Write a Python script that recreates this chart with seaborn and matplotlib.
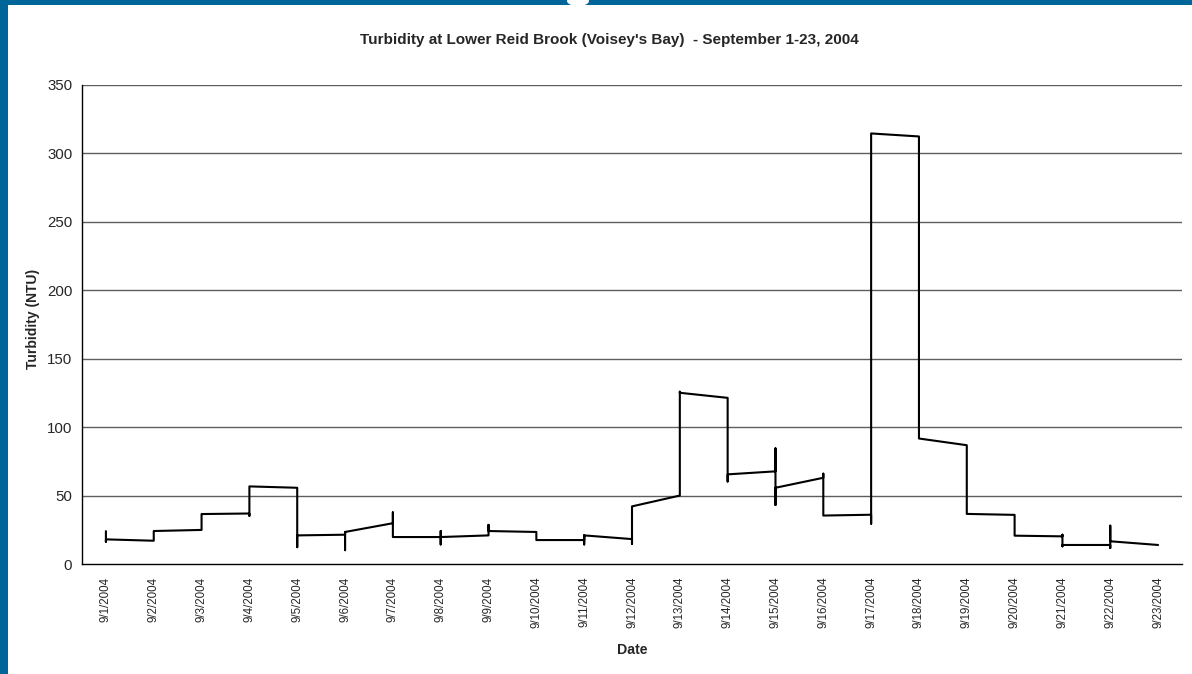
import matplotlib
matplotlib.use("Agg")
import matplotlib.pyplot as plt
from matplotlib.patches import Rectangle, Ellipse
import numpy as np
import pandas as pd
import seaborn as sns

# Day labels for the category axis
date_labels = [f"9/{d}/2004" for d in range(1, 24)]

# Readings in the order they were logged; each reading is tagged with its day (1..23)
reading_day = [
    1, 1, 1,
    2, 2,
    3, 3,
    4, 4, 4,
    5, 5, 5,
    6, 6, 6, 6,
    7, 7, 7,
    8, 8, 8, 8,
    9, 9, 9,
    10, 10,
    11, 11, 11, 11,
    12, 12, 12,
    13, 13, 13, 13,
    14, 14, 14,
    15, 15, 15, 15,
    16, 16, 16,
    17, 17, 17,
    18, 18,
    19, 19, 19,
    20, 20,
    21, 21, 21, 21,
    22, 22, 22, 22,
    23,
]
turbidity_ntu = [
    24.0, 16.3, 18.0,
    17.0, 24.1,
    24.9, 36.5,
    36.9, 35.2, 56.7,
    55.7, 12.3, 20.9,
    21.4, 23.4, 10.1, 23.4,
    29.8, 37.7, 19.7,
    19.7, 24.1, 14.3, 19.7,
    20.9, 28.6, 24.1,
    23.4, 17.5,
    17.5, 20.9, 14.3, 20.9,
    18.2, 14.8, 42.1,
    50.0, 110.0, 125.9, 125.1,
    121.4, 60.3, 65.5,
    67.7, 84.5, 43.1, 55.7,
    63.0, 66.0, 35.4,
    36.0, 29.5, 314.6,
    312.4, 91.7,
    86.8, 42.0, 36.6,
    35.9, 20.7,
    20.2, 21.4, 12.9, 13.9,
    13.9, 11.7, 28.0, 16.6,
    13.9,
]

y_ticks = [0, 50, 100, 150, 200, 250, 300, 350]

df = pd.DataFrame({
    "day": np.array(reading_day) - 1,
    "ntu": turbidity_ntu,
})

sns.set_theme(style="white")
plt.rcParams["font.family"] = ["Liberation Sans", "DejaVu Sans"]

W, H = 1192, 674
fig = plt.figure(figsize=(W / 100, H / 100), dpi=100)
fig.patch.set_facecolor("white")

# Slide frame: blue bar at the top and on the left edge
frame_blue = "#006699"
fig.add_artist(Rectangle((0, 1 - 5 / H), 1, 5 / H, transform=fig.transFigure,
                         facecolor=frame_blue, edgecolor="none", zorder=0))
fig.add_artist(Rectangle((0, 0), 8 / W, 1, transform=fig.transFigure,
                         facecolor=frame_blue, edgecolor="none", zorder=0))
fig.add_artist(Ellipse((578 / W, 1 - 1 / H), 22 / W, 10 / H, transform=fig.transFigure,
                       facecolor="white", edgecolor="none", zorder=1))

ax = fig.add_axes([82 / W, (H - 564) / H, (1182 - 82) / W, (564 - 85) / H])

sns.lineplot(data=df, x="day", y="ntu", sort=False, estimator=None,
             color="black", linewidth=1.5, ax=ax)

ax.set_xlim(-0.5, len(date_labels) - 0.5)
ax.set_ylim(0, 350)

# Horizontal gridlines at each y tick
ax.set_yticks(y_ticks)
ax.set_yticklabels([str(v) for v in y_ticks], fontsize=10.8)
for v in y_ticks[1:]:
    ax.axhline(v, color="#5e5e5e", linewidth=1.0, zorder=0)

# Categories: labels centred, tick marks on the boundaries
ax.set_xticks(np.arange(len(date_labels)))
ax.set_xticklabels(date_labels, rotation=90, fontsize=8.3)
ax.set_xticks(np.arange(len(date_labels) + 1) - 0.5, minor=True)
ax.tick_params(axis="x", which="major", length=0, pad=9)
ax.tick_params(axis="x", which="minor", length=4, width=1, color="black", direction="out")
ax.tick_params(axis="y", which="major", length=4, width=1, color="black", direction="out", pad=3)

for side in ("top", "right"):
    ax.spines[side].set_visible(False)
for side in ("left", "bottom"):
    ax.spines[side].set_color("black")
    ax.spines[side].set_linewidth(1.0)

ax.set_xlabel("Date", fontsize=10.2, fontweight="bold")
ax.xaxis.set_label_coords(0.5, (564 - 643) / 479)
ax.set_ylabel("Turbidity (NTU)", fontsize=10, fontweight="bold")
ax.yaxis.set_label_coords((40 - 82) / 1100, 0.5 + 6 / 479)
ax.grid(False)

fig.text(609 / W, 1 - 40 / H,
         "Turbidity at Lower Reid Brook (Voisey's Bay)  - September 1-23, 2004",
         ha="center", va="center", fontsize=11, fontweight="bold")

fig.savefig("out.png", dpi=100, facecolor="white")
